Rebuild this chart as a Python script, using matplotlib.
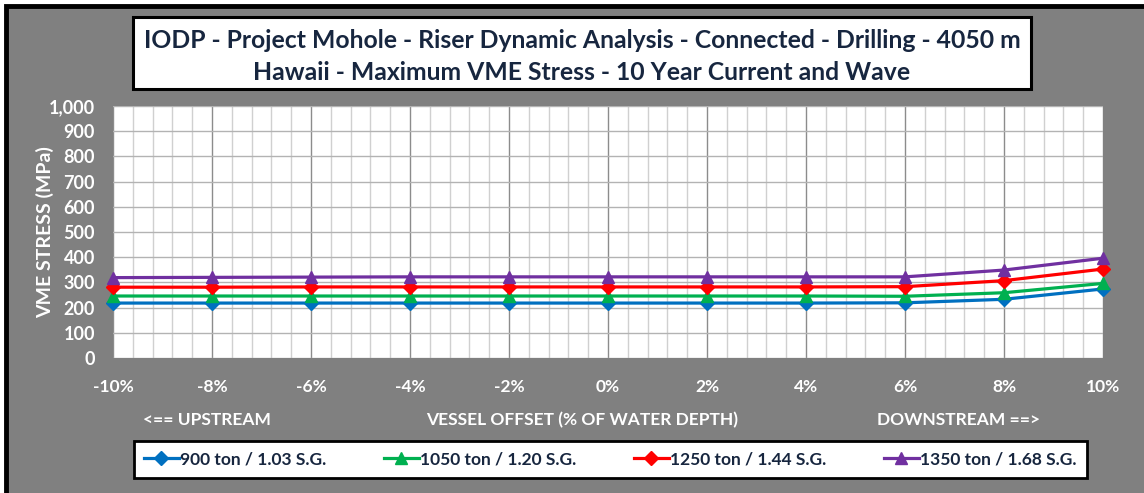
import matplotlib
matplotlib.use("Agg")
import matplotlib.pyplot as plt
from matplotlib.patches import Rectangle
from matplotlib.ticker import MultipleLocator, FuncFormatter

# data
offsets = [-10, -8, -6, -4, -2, 0, 2, 4, 6, 8, 10]
s900 = [218, 218, 218, 218, 218, 218, 218, 218, 219, 233, 274]
s1050 = [246, 246, 246, 246, 246, 246, 246, 246, 245, 259, 296]
s1250 = [281, 281, 282, 282, 282, 282, 282, 282, 283, 307, 353]
s1350 = [319, 320, 321, 322, 322, 322, 322, 322, 322, 349, 396]
labels = ["900 ton / 1.03 S.G.", "1050 ton / 1.20 S.G.",
          "1250 ton / 1.44 S.G.", "1350 ton / 1.68 S.G."]

title1 = "IODP - Project Mohole - Riser Dynamic Analysis - Connected - Drilling - 4050 m"
title2 = "Hawaii - Maximum VME Stress - 10 Year Current and Wave"

plt.rcParams['font.family'] = ['Lato', 'DejaVu Sans']
plt.rcParams['font.weight'] = 'bold'

W, H = 1144, 493
fig = plt.figure(figsize=(W / 100, H / 100), dpi=100, facecolor='white')

def fx(px):
    return px / W

def fy(py):
    return 1 - py / H

# gray chart background with black border on top / left
fig.patches.append(Rectangle((fx(6), fy(H + 20)), fx(W + 20), (H + 14) / H,
                             transform=fig.transFigure, facecolor='#808080',
                             edgecolor='black', linewidth=3.5, zorder=-5))

# title box
fig.patches.append(Rectangle((fx(133), fy(89)), fx(1031 - 133), (89 - 17) / H,
                             transform=fig.transFigure, facecolor='white',
                             edgecolor='black', linewidth=2.2, zorder=-4))
navy = '#17263f'
fig.text(fx(582), fy(40), title1, ha='center', va='center', fontsize=17.8,
         color=navy, fontweight='bold')
fig.text(fx(582), fy(73), title2, ha='center', va='center', fontsize=17.8,
         color=navy, fontweight='bold')

ax = fig.add_axes([fx(113), fy(358), fx(1103 - 113), (358 - 106) / H])
ax.set_facecolor('white')

ax.plot(offsets, s900, color='#0070c0', marker='D', markersize=7, lw=2.3,
        label=labels[0], clip_on=False, zorder=5)
ax.plot(offsets, s1050, color='#00b050', marker='^', markersize=9, lw=2.3,
        label=labels[1], clip_on=False, zorder=5)
ax.plot(offsets, s1250, color='#ff0000', marker='D', markersize=7, lw=2.3,
        label=labels[2], clip_on=False, zorder=5)
ax.plot(offsets, s1350, color='#7030a0', marker='^', markersize=9, lw=2.3,
        label=labels[3], clip_on=False, zorder=5)

ax.set_xlim(-10, 10)
ax.set_ylim(0, 1000)
ax.xaxis.set_major_locator(MultipleLocator(2))
ax.xaxis.set_minor_locator(MultipleLocator(0.4))
ax.yaxis.set_major_locator(MultipleLocator(100))
ax.xaxis.set_major_formatter(FuncFormatter(lambda v, p: f"{v:.0f}%"))
ax.yaxis.set_major_formatter(FuncFormatter(lambda v, p: f"{v:,.0f}"))
ax.grid(which='major', axis='x', color='#8c8c8c', lw=1.0)
ax.grid(which='minor', axis='x', color='#d0d0d0', lw=1.0)
ax.grid(which='major', axis='y', color='#b3b3b3', lw=1.0)
ax.set_axisbelow(True)
for s in ax.spines.values():
    s.set_visible(False)
ax.tick_params(which='both', length=0)
ax.tick_params(axis='x', pad=15, labelsize=12.5, labelcolor='white')
ax.tick_params(axis='y', pad=13, labelsize=13, labelcolor='white')
for t in ax.get_xticklabels() + ax.get_yticklabels():
    t.set_fontweight('bold')

ax.set_ylabel("VME STRESS (MPa)", color='white', fontsize=14,
              fontweight='bold', labelpad=-4)

fig.text(fx(207), fy(420), "<== UPSTREAM", ha='center', va='center',
         color='white', fontsize=12.5, fontweight='bold')
fig.text(fx(582), fy(420), "VESSEL OFFSET (% OF WATER DEPTH)", ha='center',
         va='center', color='white', fontsize=12.5, fontweight='bold')
fig.text(fx(959), fy(420), "DOWNSTREAM ==>", ha='center', va='center',
         color='white', fontsize=12.5, fontweight='bold')

leg = fig.legend(loc='center', ncol=4,
                 bbox_to_anchor=(fx(133), fy(482), fx(1088 - 133), 45 / H),
                 fancybox=False, frameon=True, edgecolor='black',
                 facecolor='white', framealpha=1.0, borderpad=0.6,
                 handlelength=2.0, handletextpad=0.1, columnspacing=3.3,
                 prop={'weight': 'bold', 'size': 12.5})
leg.get_frame().set_linewidth(2.0)
for t in leg.get_texts():
    t.set_color(navy)

fig.savefig("out.png", dpi=100, facecolor=fig.get_facecolor())
